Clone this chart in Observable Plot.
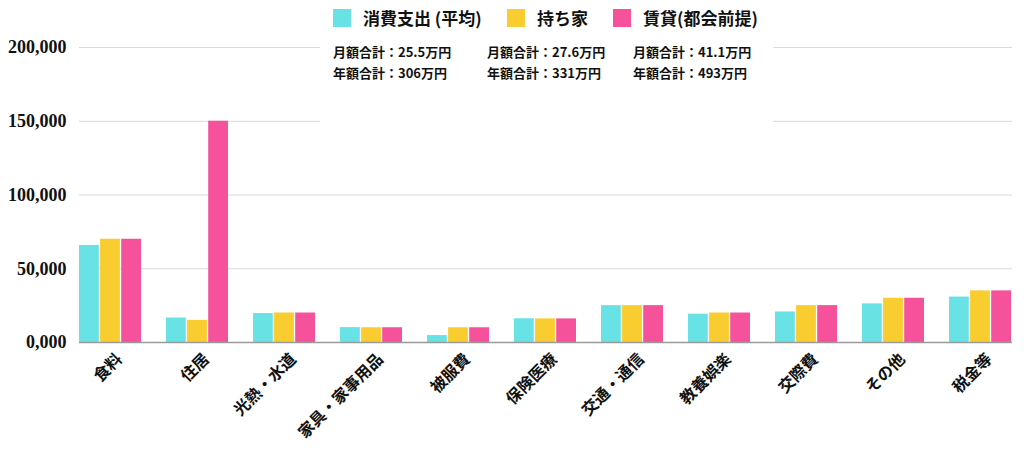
<!DOCTYPE html>
<html>
<head>
<meta charset="utf-8">
<script src="https://cdn.jsdelivr.net/npm/d3@7"></script>
<script src="https://cdn.jsdelivr.net/npm/@observablehq/plot@0.6"></script>
<style>
  html, body { margin: 0; padding: 0; background: #fff; }
  #page { position: relative; width: 1024px; height: 458px; overflow: hidden; font-family: "Noto Sans CJK JP", sans-serif; color: #111; }
  #legend { position: relative; height: 36px; }
  .lg-item { position: absolute; top: 9px; display: flex; align-items: center; font-weight: 700; font-size: 17px; line-height: 18px; }
  .lg-sw { width: 18px; height: 18px; margin-right: 12px; }
  #notes { position: absolute; left: 320px; top: 38px; width: 453px; height: 87px; background: #fff; z-index: 2; }
  .note { position: absolute; top: 3px; font-weight: 700; font-size: 13px; line-height: 21px; white-space: nowrap; }
  #chart svg { display: block; }
</style>
</head>
<body>
<div id="page">
  <div id="legend"></div>
  <div id="notes"></div>
  <div id="chart"></div>
</div>
<script>
const categories = ["食料", "住居", "光熱・水道", "家具・家事用品", "被服費", "保険医療", "交通・通信", "教養娯楽", "交際費", "その他", "税金等"];
const averageSpend = [65800, 16600, 19600, 10100, 4700, 16100, 25000, 19200, 20700, 26200, 30800];
const ownedHome = [70000, 15000, 20000, 10000, 10000, 16000, 25000, 20000, 25000, 30000, 35000];
const rentalCity = [70000, 150000, 20000, 10000, 10000, 16000, 25000, 20000, 25000, 30000, 35000];
const seriesNames = ["消費支出 (平均)", "持ち家", "賃貸(都会前提)"];
const seriesColors = ["#69e2e5", "#f9cd2f", "#f6529c"];
const monthlyTotals = ["月額合計：25.5万円", "月額合計：27.6万円", "月額合計：41.1万円"];
const annualTotals = ["年額合計：306万円", "年額合計：331万円", "年額合計：493万円"];
const yTicks = [0, 50000, 100000, 150000, 200000];
const yTickLabels = ["0,000", "50,000", "100,000", "150,000", "200,000"];

const seriesValues = [averageSpend, ownedHome, rentalCity];

// legend
const legendLeft = [333, 507, 613];
const legend = document.getElementById("legend");
seriesNames.forEach((s, k) => {
  const item = document.createElement("div");
  item.className = "lg-item";
  item.style.left = legendLeft[k] + "px";
  item.innerHTML = `<span class="lg-sw" style="background:${seriesColors[k]}"></span><span>${s}</span>`;
  legend.appendChild(item);
});

// notes
const noteLeft = [13, 167, 313];
const notes = document.getElementById("notes");
monthlyTotals.forEach((m, k) => {
  const n = document.createElement("div");
  n.className = "note";
  n.style.left = noteLeft[k] + "px";
  n.innerHTML = `${m}<br>${annualTotals[k]}`;
  notes.appendChild(n);
});

const W = 1024, H = 422, ML = 79, MR = 12, MT = 11, MB = 116;
const padInner = 0.287;
// group bandwidth computed the same way as Plot's band scale, to split it into three bars
const bw = d3.scaleBand().domain(categories).range([ML, W - MR]).paddingInner(padInner).paddingOuter(0).bandwidth();
const gap = 1.2;
const barW = (bw - 2 * gap) / 3;

const barMarks = seriesNames.map((s, k) => Plot.barY(
  categories.map((c, i) => ({category: c, series: s, value: seriesValues[k][i]})),
  {x: "category", y: "value", fill: "series",
   insetLeft: k * (barW + gap), insetRight: (2 - k) * (barW + gap)}
));

const chart = Plot.plot({
  width: W,
  height: H,
  marginLeft: ML,
  marginRight: MR,
  marginTop: MT,
  marginBottom: MB,
  style: {background: "transparent", overflow: "visible"},
  x: {domain: categories, paddingInner: padInner, paddingOuter: 0, label: null},
  y: {domain: [0, 200000], label: null},
  color: {domain: seriesNames, range: seriesColors},
  marks: [
    Plot.ruleY(yTicks.slice(1), {stroke: "#d9d9d9", strokeWidth: 1.2}),
    ...barMarks,
    Plot.ruleY([0], {stroke: "#9a9a9a", strokeWidth: 1.5}),
    Plot.axisY({ticks: yTicks, tickFormat: (d) => yTickLabels[yTicks.indexOf(d)], tickSize: 0, tickPadding: 13, label: null,
      fontSize: 18, fontWeight: "bold", fontFamily: "Liberation Serif, serif", fill: "#111"}),
    Plot.axisX({tickRotate: -45, tickSize: 0, tickPadding: 14, label: null, dx: 9,
      fontSize: 16, fontWeight: "bold", fontFamily: "Noto Sans CJK JP, sans-serif", fill: "#111"})
  ]
});
document.getElementById("chart").appendChild(chart);
</script>
</body>
</html>
